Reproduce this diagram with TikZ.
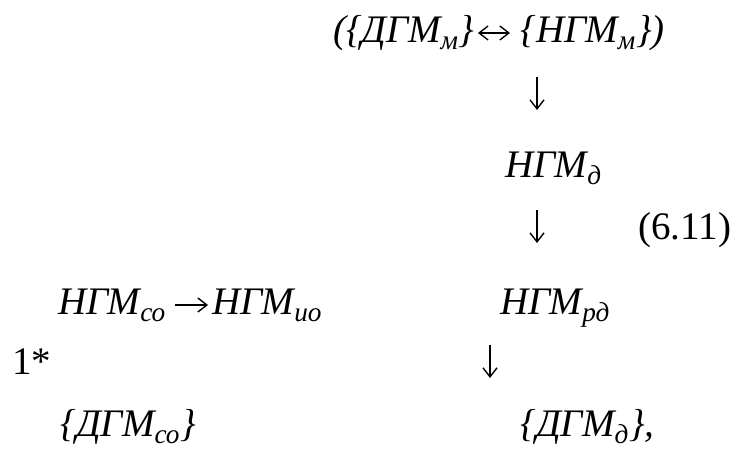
\documentclass[tikz,border=0pt]{standalone}
\usepackage{fontspec}
\newfontfamily\tnr{Liberation Serif}
\usetikzlibrary{arrows.meta,positioning}

\newcommand{\lo}[1]{\textsubscript{#1}}

\begin{document}
\begin{tikzpicture}[
    x=0.5pt, y=-0.5pt,
    expr/.style={inner sep=0pt, anchor=base west, font=\tnr\fontsize{19.5}{23}\selectfont\itshape},
    plain/.style={inner sep=0pt, anchor=base west, font=\tnr\fontsize{19.5}{23}\selectfont},
    arrow/.style={-{Straight Barb[length=4.5pt,width=7pt]}, line width=0.7pt},
    twoway/.style={{Straight Barb[length=4.5pt,width=7pt]}-{Straight Barb[length=4.5pt,width=7pt]}, line width=0.7pt}
]
    \useasboundingbox (0,0) rectangle (743,453);

    \node[expr] (dgmm) at (333,43) {(\{ДГМ\lo{м}\}};
    \node[expr] (ngmm) at (520,43) {\{НГМ\lo{м}\})};
    \node[expr] (ngmd) at (505,178) {НГМ\lo{д}};
    \node[plain] (eqno) at (638,240) {(6.11)};
    \node[expr] (ngmso) at (58,315) {НГМ\lo{со}};
    \node[expr] (ngmio) at (212,315) {НГМ\lo{ио}};
    \node[expr] (ngmrd) at (500,315) {НГМ\lo{рд}};
    \node[plain] (mark) at (12,375) {1*};
    \node[expr] (dgmso) at (60,437) {\{ДГМ\lo{со}\}};
    \node[expr] (dgmd) at (520,437) {\{ДГМ\lo{д}\},};

    \coordinate (d1a) at (537,77);
    \coordinate (d1b) at (537,110);
    \coordinate (d2a) at (537,210);
    \coordinate (d2b) at (537,243);
    \coordinate (d3a) at (490,345);
    \coordinate (d3b) at (490,378);

    \draw[twoway, shorten <=1.5pt, shorten >=5pt] ([yshift=5pt]dgmm.base east) -- ([yshift=5pt]ngmm.base west);
    \draw[arrow, shorten <=4pt, shorten >=2pt] ([yshift=5pt]ngmso.base east) -- ([yshift=5pt]ngmio.base west);
    \draw[arrow] (d1a) -- (d1b);
    \draw[arrow] (d2a) -- (d2b);
    \draw[arrow] (d3a) -- (d3b);
\end{tikzpicture}
\end{document}
